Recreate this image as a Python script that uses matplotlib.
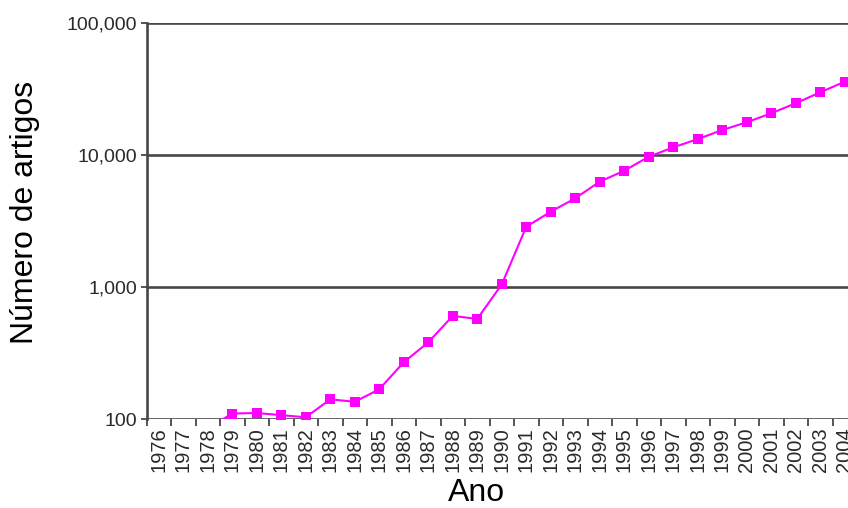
import numpy as np
import matplotlib
matplotlib.use("Agg")
import matplotlib.pyplot as plt
from matplotlib.ticker import FixedLocator, FixedFormatter

plt.rcParams['font.family'] = ['Liberation Sans', 'DejaVu Sans']

years = [str(y) for y in range(1976, 2005)]
articles = [np.nan, np.nan, 85, 110, 111, 107, 103, 141, 135, 168, 269, 381, 604, 573,
            1045, 2860, 3720, 4700, 6280, 7600, 9700, 11430, 13200, 15460, 17700,
            20700, 24670, 29860, 35900]
y_ticks = [100, 1000, 10000, 100000]
y_tick_labels = ["100", "1,000", "10,000", "100,000"]

W, H = 848, 508
fig = plt.figure(figsize=(W / 100, H / 100), dpi=100)
left_px, right_px, top_px, bot_px = 146.5, 857, 23, 419
ax = fig.add_axes([left_px / W, 1 - bot_px / H, (right_px - left_px) / W, (bot_px - top_px) / H])

x = np.arange(len(years))
ax.plot(x, articles, color='#ff00ff', lw=1.5, marker='s', markersize=6.5,
        markeredgewidth=0, zorder=3, clip_on=True)

ax.set_yscale('log')
ax.set_ylim(100, 100000)
ax.set_xlim(-0.5, len(years) - 0.5)

gray = '#474747'
for v in y_ticks:
    ax.axhline(v, color=gray, lw=1.9, zorder=2)

ax.yaxis.set_major_locator(FixedLocator(y_ticks))
ax.yaxis.set_major_formatter(FixedFormatter(y_tick_labels))
ax.yaxis.set_minor_locator(FixedLocator([]))
ax.tick_params(axis='y', which='major', length=4, width=1.3, color=gray,
               labelsize=14, labelcolor='#2a2a2a', pad=3)

ax.set_xticks(x)
ax.set_xticklabels(years, rotation=90, fontsize=14.5, color='#2a2a2a')
ax.set_xticks(np.arange(-0.5, len(years)), minor=True)
ax.tick_params(axis='x', which='major', length=0, pad=6)
ax.tick_params(axis='x', which='minor', length=5, width=1.3, color=gray)

for s in ['top', 'right', 'bottom']:
    ax.spines[s].set_visible(False)
ax.spines['left'].set_color(gray)
ax.spines['left'].set_linewidth(1.9)

fig.text(25 / W, 1 - 212 / H, "Número de artigos", rotation=90, fontsize=23,
         ha='center', va='center', color='black')
fig.text(476 / W, 1 - 493 / H, "Ano", fontsize=23, ha='center', va='center', color='black')

fig.savefig("out.png", dpi=100)
